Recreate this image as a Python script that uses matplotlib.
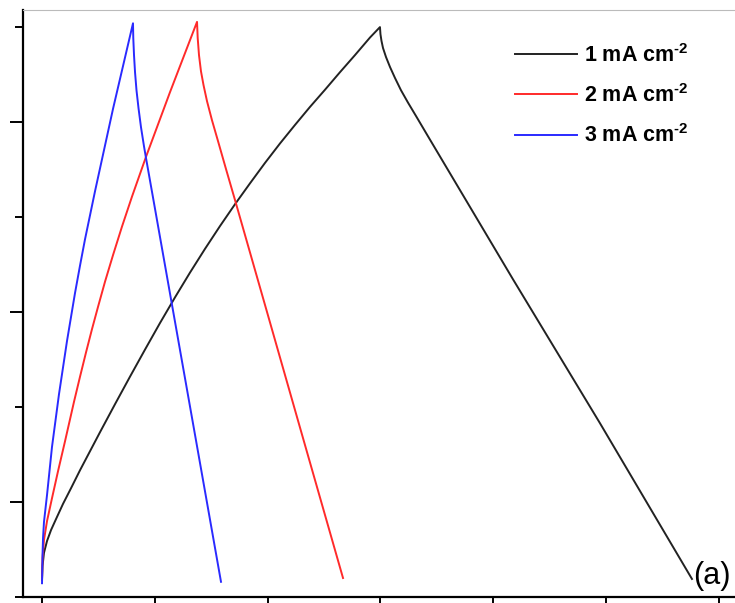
import matplotlib
matplotlib.use("Agg")
import matplotlib.pyplot as plt
from matplotlib.ticker import MultipleLocator

plt.rcParams["font.family"] = ["Liberation Sans", "DejaVu Sans"]
plt.rcParams["mathtext.fontset"] = "custom"
plt.rcParams["mathtext.rm"] = "Liberation Sans:bold"
plt.rcParams["mathtext.default"] = "rm"

# galvanostatic charge/discharge curves (time in s, potential in V)
t_1 = [0, 0.9, 3.5, 8.9, 16.0, 24.8, 37.2, 51.4, 67.4, 85.1, 102.8, 129.4, 156.0, 182.6,
       209.2, 235.8, 262.3, 288.9, 315.5, 342.1, 368.7, 395.3, 421.9, 448.5, 475.1, 501.6,
       528.2, 554.8, 581.4, 599.1,
       600.0, 601.8, 604.5, 609.8, 616.9, 625.7, 636.4, 648.8, 662.9, 687.8, 834.9, 989.1, 1152.2]
v_1 = [-0.164, -0.135, -0.107, -0.082, -0.059, -0.036, -0.004, 0.029, 0.067, 0.107, 0.147,
       0.206, 0.264, 0.321, 0.377, 0.431, 0.483, 0.533, 0.581, 0.627, 0.671, 0.714, 0.755,
       0.794, 0.832, 0.868, 0.905, 0.941, 0.978, 1.0,
       0.985, 0.971, 0.956, 0.937, 0.916, 0.893, 0.867, 0.841, 0.813, 0.763, 0.469, 0.166, -0.162]

t_2 = [0, 0.9, 3.5, 8.9, 17.7, 28.4, 40.8, 56.7, 67.4, 78.0, 88.6, 99.3, 111.7, 125.9,
       141.8, 159.5, 184.4, 226.9, 274.8,
       276.0, 278.3, 281.8, 286.3, 292.5, 301.3, 312.0, 326.2, 342.1, 400.6, 457.3, 533.6]
v_2 = [-0.164, -0.118, -0.080, -0.040, 0.008, 0.065, 0.128, 0.211, 0.264, 0.315, 0.364,
       0.411, 0.464, 0.520, 0.580, 0.643, 0.727, 0.863, 1.011,
       0.977, 0.941, 0.907, 0.878, 0.844, 0.804, 0.760, 0.701, 0.636, 0.393, 0.157, -0.160]

t_3 = [0, 0.9, 1.8, 3.5, 8.9, 17.7, 30.1, 44.3, 58.5, 67.4, 76.2, 93.9, 125.9, 161.3,
       161.8, 163.1, 164.9, 167.5, 171.1, 175.5, 180.8, 184.4, 196.8, 226.9, 258.8, 280.1, 317.3]
v_3 = [-0.171, -0.112, -0.076, -0.042, 0.015, 0.116, 0.227, 0.339, 0.440, 0.498, 0.553,
       0.654, 0.828, 1.008,
       0.977, 0.941, 0.905, 0.867, 0.829, 0.789, 0.749, 0.724, 0.641, 0.439, 0.225, 0.082, -0.168]

labels = [r"1 mA cm$^{\text{-}2}$", r"2 mA cm$^{\text{-}2}$", r"3 mA cm$^{\text{-}2}$"]
colors = ["#222222", "#ff2a2a", "#2a2aff"]

fig = plt.figure(figsize=(7.35, 6.03), dpi=100)
ax = fig.add_axes([23 / 735, 6 / 603, 712 / 735, 587 / 603])

for t, v, lab, c in zip([t_1, t_2, t_3], [v_1, v_2, v_3], labels, colors):
    ax.plot(t, v, color=c, lw=1.4, label=lab)

ax.set_xlim(-33.7, 1228.5)
ax.set_ylim(-0.2, 1.036)

ax.xaxis.set_major_locator(MultipleLocator(200))
ax.yaxis.set_major_locator(MultipleLocator(0.4))
ax.yaxis.set_minor_locator(MultipleLocator(0.2))
ax.tick_params(axis="both", which="both", direction="out", width=1.4,
               labelbottom=False, labelleft=False)
ax.tick_params(axis="y", which="major", length=9.5)
ax.tick_params(axis="y", which="minor", length=5.5)
ax.tick_params(axis="x", which="major", length=9)

for side in ["left", "bottom"]:
    ax.spines[side].set_linewidth(1.6)
ax.spines["top"].set_color("#bbbbbb")
ax.spines["top"].set_linewidth(0.8)
ax.spines["right"].set_visible(False)

leg = ax.legend(loc="upper left", bbox_to_anchor=(515 / 735, 1 - 44 / 603),
                bbox_transform=fig.transFigure, frameon=False,
                prop={"weight": "bold", "size": 15.5},
                handlelength=2.9, handletextpad=0.3, labelspacing=0.8,
                borderpad=0, borderaxespad=0)

ax.text(1155, -0.155, "(a)", fontsize=22, ha="left", va="center")

fig.savefig("out.png", dpi=100)
